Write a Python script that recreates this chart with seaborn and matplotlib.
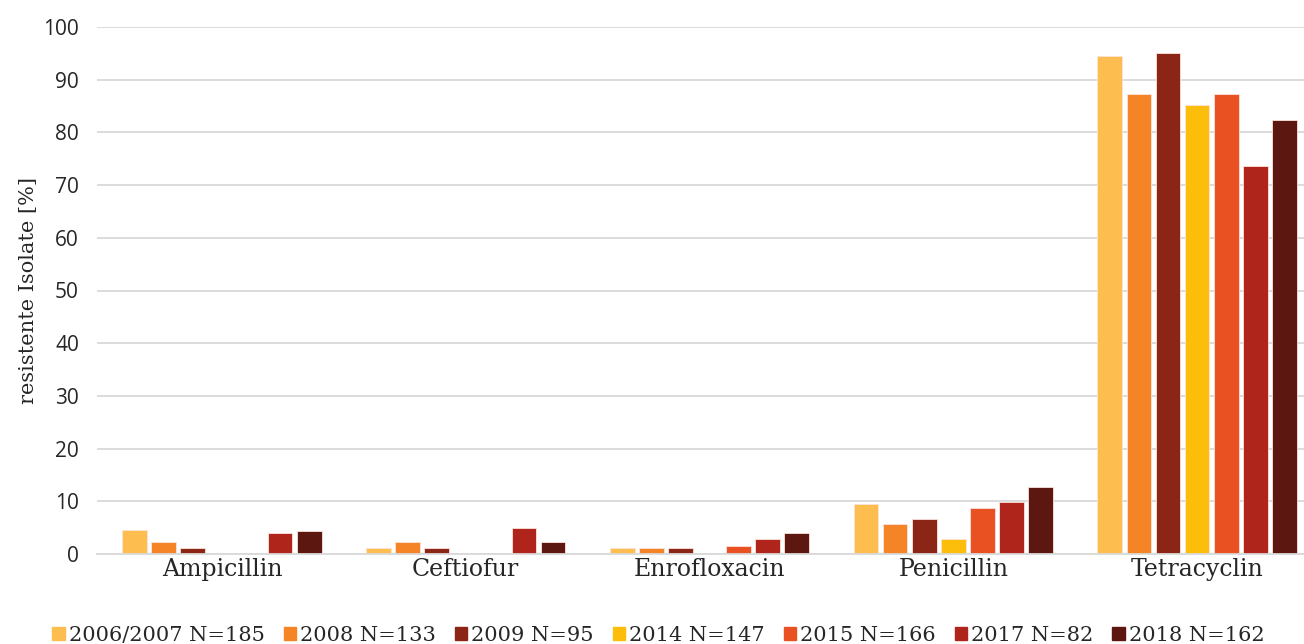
import pandas as pd
import seaborn as sns
import matplotlib.pyplot as plt

antibiotics = ['Ampicillin', 'Ceftiofur', 'Enrofloxacin', 'Penicillin', 'Tetracyclin']
years = ['2006/2007 N=185', '2008 N=133', '2009 N=95', '2014 N=147',
         '2015 N=166', '2017 N=82', '2018 N=162']

# resistant isolates in %, one list per year
v2006 = [4.6, 1.1, 1.1, 9.4, 94.5]
v2008 = [2.2, 2.2, 1.1, 5.6, 87.3]
v2009 = [1.1, 1.1, 1.1, 6.6, 95.1]
v2014 = [0.0, 0.0, 0.0, 2.8, 85.2]
v2015 = [0.0, 0.0, 1.6, 8.8, 87.3]
v2017 = [3.9, 4.9, 2.8, 9.9, 73.6]
v2018 = [4.4, 2.2, 3.9, 12.7, 82.4]

colors = ['#FDBD4F', '#F58426', '#8B2616', '#FDBE0B', '#EA5122', '#B0251B', '#5C1810']

rows = []
for year, vals in zip(years, [v2006, v2008, v2009, v2014, v2015, v2017, v2018]):
    for ab, v in zip(antibiotics, vals):
        rows.append({'antibiotic': ab, 'year': year, 'pct': v})
df = pd.DataFrame(rows)

sns.set_style('white')
serif = ['DejaVu Serif']

fig = plt.figure(figsize=(13.04, 6.44), dpi=100)
ax = fig.add_axes([97 / 1304, 1 - 554 / 644, 1225 / 1304, 527 / 644])

sns.barplot(data=df, x='antibiotic', y='pct', hue='year', palette=colors,
            saturation=1, width=0.835, gap=0.15, edgecolor='#fbe3dc',
            linewidth=0.6, ax=ax, errorbar=None)

ax.set_ylim(0, 100)
ax.set_xlim(-0.5125, 4.5125)
ax.set_yticks(range(0, 101, 10))
ax.yaxis.grid(True, color='#d9d9d9', linewidth=1.3)
ax.set_axisbelow(True)
for s in ['top', 'right', 'left']:
    ax.spines[s].set_visible(False)
ax.spines['bottom'].set_color('#d9d9d9')
ax.spines['bottom'].set_linewidth(1.3)
ax.tick_params(axis='both', length=0)
ax.tick_params(axis='y', labelsize=15, pad=13)
for lab in ax.get_yticklabels():
    lab.set_family(['Open Sans', 'DejaVu Sans'])
ax.tick_params(axis='x', labelsize=17, pad=3)
for lab in ax.get_xticklabels():
    lab.set_family(serif)
ax.set_xlabel('')
ax.set_ylabel('resistente Isolate [%]', fontsize=15, family=serif, labelpad=4)

ax.legend_.remove()
handles = [plt.Rectangle((0, 0), 1, 1, color=c) for c in colors]
fig.legend(handles, years, loc='lower center', bbox_to_anchor=(0.505, -0.03),
           ncol=7, frameon=False, handlelength=0.6, handleheight=0.6,
           handletextpad=0.2, columnspacing=0.9,
           prop={'family': serif, 'size': 15})

fig.savefig('out.png', dpi=100)
